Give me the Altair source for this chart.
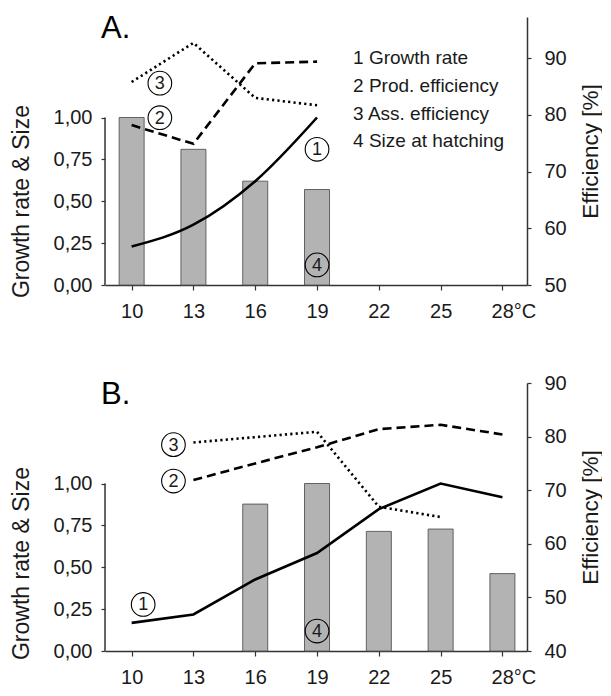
import altair as alt
import pandas as pd

FONT = "Liberation Sans"
INK = "#1a1a1a"

# ---- data -------------------------------------------------------------
temps = [10, 13, 16, 19, 22, 25, 28]

# Panel A
a_size = [1.00, 0.81, 0.62, 0.57, None, None, None]
a_growth = [0.23, 0.36, 0.62, 1.00, None, None, None]
a_prod = [78.2, 74.9, 89.1, 89.4, None, None, None]
a_ass = [85.8, 92.7, 83.0, 81.7, None, None, None]

# Panel B
b_size = [None, None, 0.877, 1.00, 0.714, 0.728, 0.462]
b_growth = [0.168, 0.218, 0.427, 0.585, 0.847, 1.00, 0.918]
b_prod = [None, 71.9, 75.0, 78.0, 81.4, 82.2, 80.4]
b_ass = [None, 78.9, 79.9, 80.9, 66.9, 65.0, None]

legend_labels = ["1 Growth rate", "2 Prod. efficiency", "3 Ass. efficiency", "4 Size at hatching"]

# annotation anchors (data coordinates)
a_left_num = ["1", "4"]
a_left_x = [19.0, 19.0]
a_left_y = [0.81, 0.12]
a_right_num = ["2", "3"]
a_right_x = [11.37, 11.37]
a_right_y = [79.5, 85.6]
a_legend_x = [20.75, 20.75, 20.75, 20.75]
a_legend_y = [90.0, 85.1, 80.2, 75.4]

b_left_num = ["1", "4"]
b_left_x = [10.56, 19.0]
b_left_y = [0.278, 0.119]
b_right_num = ["2", "3"]
b_right_x = [12.03, 12.03]
b_right_y = [71.7, 78.5]

x_ticks = [10, 13, 16, 19, 22, 25, 28]
left_ticks = [0, 0.25, 0.5, 0.75, 1.0]

W, H = 422, 268
PX_PER_UNIT_LEFT = 167.5

x_scale = alt.Scale(domain=[8.95, 28.95], nice=False, zero=False)
x_axis = alt.Axis(
    values=x_ticks, title=None, grid=False,
    labelExpr="datum.value == 28 ? '28°C' : datum.label",
    labelOffset={"condition": {"test": "datum.value == 28", "value": 11}, "value": 0},
    labelFont=FONT, labelFontSize=20, labelColor=INK, labelPadding=11,
    tickSize=5, tickColor="#333", tickWidth=1.2,
    domainColor="#333", domainWidth=1.5,
)


def panel(size, growth, prod, ass, eff_domain, eff_ticks, smooth,
          l_num, l_x, l_y, r_num, r_x, r_y, letter, left_title_y,
          legend_x=None, legend_y=None):
    df = pd.DataFrame({"t": temps, "size": size, "growth": growth,
                       "prod": prod, "ass": ass})
    left_scale = alt.Scale(domain=[0, H / PX_PER_UNIT_LEFT], nice=False, zero=False)
    left_axis = alt.Axis(
        values=left_ticks, grid=False, domain=False,
        labelExpr="replace(format(datum.value, '.2f'), '.', ',')",
        title="Growth rate & Size", titleAngle=270, titleX=-84,
        titleY=left_title_y, titleBaseline="middle", titleAlign="center",
        titleFont=FONT, titleFontSize=23, titleFontWeight="normal", titleColor=INK,
        labelFont=FONT, labelFontSize=20, labelColor=INK, labelPadding=9,
        tickSize=4, tickColor="#333", tickWidth=1.2,
    )
    right_scale = alt.Scale(domain=eff_domain, nice=False, zero=False)
    right_axis = alt.Axis(
        orient="right", values=eff_ticks, grid=False,
        title="Efficiency [%]", titleAngle=270, titleX=63,
        titleBaseline="middle", titleAlign="center",
        titleFont=FONT, titleFontSize=22.5, titleFontWeight="normal", titleColor=INK,
        labelFont=FONT, labelFontSize=20, labelColor=INK, labelPadding=13,
        tickSize=4, tickColor="#333", tickWidth=1.2,
        domainColor="#333", domainWidth=1.5,
    )

    base = alt.Chart(df)
    X = alt.X("t:Q", scale=x_scale, axis=x_axis)

    bars = base.mark_bar(size=25, color="#b3b3b3", stroke="#555555", strokeWidth=0.9).encode(
        x=X, y=alt.Y("size:Q", scale=left_scale, axis=left_axis)
    ).transform_filter("isValid(datum.size)")

    growth_line = base.mark_line(
        color="black", strokeWidth=2.6,
        interpolate="monotone" if smooth else "linear",
    ).encode(
        x=X, y=alt.Y("growth:Q", scale=left_scale, axis=left_axis)
    ).transform_filter("isValid(datum.growth)")

    rule_df = pd.DataFrame({"lo": [0.0], "hi": [1.0]})
    left_rule = alt.Chart(rule_df).mark_rule(color="#333", strokeWidth=1.5).encode(
        x=alt.value(0),
        y=alt.Y("lo:Q", scale=left_scale, axis=left_axis),
        y2="hi:Q",
    )

    ldf = pd.DataFrame({"ax": l_x, "ay": l_y, "num": l_num})
    l_circ = alt.Chart(ldf).mark_point(shape="circle", filled=False, size=560,
                                       color="black", strokeWidth=1.1, opacity=1).encode(
        x=alt.X("ax:Q", scale=x_scale, axis=x_axis),
        y=alt.Y("ay:Q", scale=left_scale, axis=left_axis),
    )
    l_txt = alt.Chart(ldf).mark_text(font=FONT, fontSize=18, color=INK,
                                     align="center", baseline="middle", dy=1).encode(
        x=alt.X("ax:Q", scale=x_scale, axis=x_axis),
        y=alt.Y("ay:Q", scale=left_scale, axis=left_axis),
        text="num:N",
    )

    letter_df = pd.DataFrame({"lab": [letter]})
    letter_txt = alt.Chart(letter_df).mark_text(
        font=FONT, fontSize=31, color="black", align="left", baseline="alphabetic"
    ).encode(x=alt.value(-4), y=alt.value(21), text="lab:N")

    left_layer = alt.layer(bars, growth_line, left_rule, l_circ, l_txt, letter_txt)

    prod_line = base.mark_line(color="black", strokeWidth=2.6, strokeDash=[9, 5]).encode(
        x=X, y=alt.Y("prod:Q", scale=right_scale, axis=right_axis)
    ).transform_filter("isValid(datum.prod)")
    ass_line = base.mark_line(color="black", strokeWidth=2.6, strokeDash=[2.2, 3.2]).encode(
        x=X, y=alt.Y("ass:Q", scale=right_scale, axis=right_axis)
    ).transform_filter("isValid(datum.ass)")

    rdf = pd.DataFrame({"ax": r_x, "ay": r_y, "num": r_num})
    r_circ = alt.Chart(rdf).mark_point(shape="circle", filled=False, size=560,
                                       color="black", strokeWidth=1.1, opacity=1).encode(
        x=alt.X("ax:Q", scale=x_scale, axis=x_axis),
        y=alt.Y("ay:Q", scale=right_scale, axis=right_axis),
    )
    r_txt = alt.Chart(rdf).mark_text(font=FONT, fontSize=18, color=INK,
                                     align="center", baseline="middle", dy=1).encode(
        x=alt.X("ax:Q", scale=x_scale, axis=x_axis),
        y=alt.Y("ay:Q", scale=right_scale, axis=right_axis),
        text="num:N",
    )
    right_parts = [prod_line, ass_line, r_circ, r_txt]
    if legend_x is not None:
        gdf = pd.DataFrame({"gx": legend_x, "gy": legend_y, "lab": legend_labels})
        leg = alt.Chart(gdf).mark_text(font=FONT, fontSize=19, color=INK,
                                       align="left", baseline="middle").encode(
            x=alt.X("gx:Q", scale=x_scale, axis=x_axis),
            y=alt.Y("gy:Q", scale=right_scale, axis=right_axis),
            text="lab:N",
        )
        right_parts.append(leg)
    right_layer = alt.layer(*right_parts)

    return alt.layer(left_layer, right_layer).resolve_scale(y="independent").properties(
        width=W, height=H
    )


panel_a = panel(a_size, a_growth, a_prod, a_ass, [50, 50 + H / 5.67], [50, 60, 70, 80, 90], True,
                a_left_num, a_left_x, a_left_y, a_right_num, a_right_x, a_right_y,
                "A.", H - 84, a_legend_x, a_legend_y)
panel_b = panel(b_size, b_growth, b_prod, b_ass, [40, 90], [40, 50, 60, 70, 80, 90], False,
                b_left_num, b_left_x, b_left_y, b_right_num, b_right_x, b_right_y,
                "B.", H - 88)

chart = alt.vconcat(panel_a, panel_b, spacing=52).properties(
    padding={"top": 5, "left": 2, "right": 0, "bottom": 0},
    background="white",
).configure_view(stroke=None)

chart.save("out.html", embed_options={"renderer": "svg", "actions": False})
